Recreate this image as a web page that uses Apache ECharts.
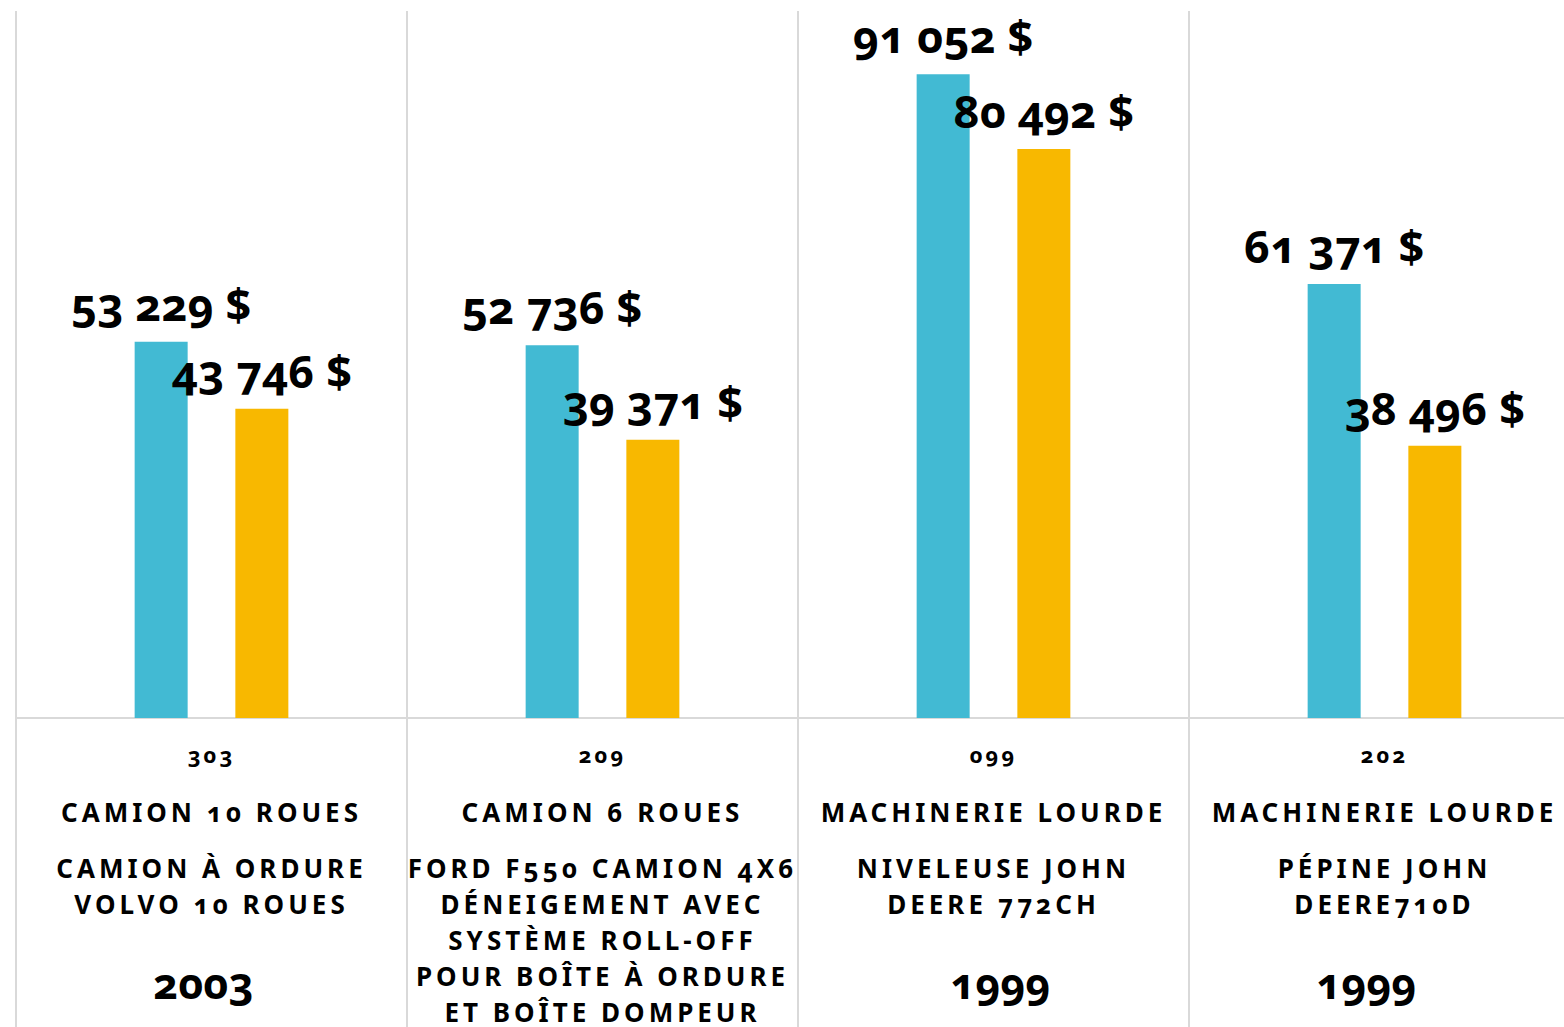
<!DOCTYPE html>
<html>
<head>
<meta charset="utf-8">
<script src="https://cdn.jsdelivr.net/npm/echarts@6.0.0/dist/echarts.min.js"></script>
<style>
html, body { margin: 0; padding: 0; background: #fff; }
#chart { width: 1564px; height: 1027px; }
/* chiffres elzéviriens + espacement des lettres pour les libellés d'axe */
#chart text { font-variant-numeric: oldstyle-nums; }
#chart text[style*="26px"] { letter-spacing: 4px; }
#chart text[style*="22px"] { letter-spacing: 3px; }
</style>
</head>
<body>
<div id="chart"></div>
<script>
// données
const codes = ['303', '209', '099', '202'];
const types = ['CAMION 10 ROUES', 'CAMION 6 ROUES', 'MACHINERIE LOURDE', 'MACHINERIE LOURDE'];
const descriptions = [
  ['CAMION À ORDURE', 'VOLVO 10 ROUES'],
  ['FORD F550 CAMION 4X6', 'DÉNEIGEMENT AVEC', 'SYSTÈME ROLL-OFF', 'POUR BOÎTE À ORDURE', 'ET BOÎTE DOMPEUR'],
  ['NIVELEUSE JOHN', 'DEERE 772CH'],
  ['PÉPINE JOHN', 'DEERE710D']
];
const years = ['2003', '', '1999', '1999'];
const blueValues = [53229, 52736, 91052, 61371];
const orangeValues = [43746, 39371, 80492, 38496];

const FONT = '"Noto Sans", "Open Sans", sans-serif';
const gridColor = '#d9d9d9';
// décalage horizontal des années (comme dans l'original, pas parfaitement centrées)
const yearPad = [[0, 16, 0, 0], [0, 0, 0, 0], [0, 0, 0, 14], [0, 36, 0, 0]];

function money(v) {
  return String(v).replace(/\B(?=(\d{3})+(?!\d))/g, ' ') + ' $';
}

function axisText(value, index) {
  let lines = ['{c|' + codes[index] + '}', '{t|' + types[index] + '}'];
  descriptions[index].forEach(function (d) { lines.push('{d|' + d + '}'); });
  if (years[index]) {
    lines.push('{s| }');
    lines.push('{y' + index + '|' + years[index] + '}');
  }
  return lines.join('\n');
}

const rich = {
  c: { fontFamily: FONT, fontSize: 22, fontWeight: 'bold', lineHeight: 40, color: '#000' },
  t: { fontFamily: FONT, fontSize: 26, fontWeight: 'bold', lineHeight: 76, color: '#000' },
  d: { fontFamily: FONT, fontSize: 26, fontWeight: 'bold', lineHeight: 36, color: '#000' },
  s: { fontFamily: FONT, fontSize: 12, lineHeight: 30 }
};
yearPad.forEach(function (p, i) {
  rich['y' + i] = { fontFamily: FONT, fontSize: 43, fontWeight: 'bold', lineHeight: 60, color: '#000', padding: p };
});

const barLabel = {
  show: true,
  position: 'top',
  distance: 16,
  color: '#000',
  fontFamily: FONT,
  fontWeight: 'bold',
  fontSize: 45,
  formatter: function (p) { return money(p.value); }
};

const chart = echarts.init(document.getElementById('chart'), null, { renderer: 'svg' });
chart.setOption({
  backgroundColor: '#fff',
  animation: false,
  textStyle: { fontFamily: FONT },
  grid: { left: 16, right: -16, top: 11, bottom: 309, containLabel: false, outerBoundsMode: 'none' },
  xAxis: {
    type: 'category',
    data: codes,
    boundaryGap: true,
    axisLine: { show: true, lineStyle: { color: gridColor, width: 2 } },
    axisTick: { show: true, length: 320, lineStyle: { color: gridColor, width: 2 } },
    splitLine: { show: true, lineStyle: { color: gridColor, width: 2 } },
    axisLabel: {
      interval: 0,
      margin: 16,
      color: '#000',
      formatter: axisText,
      rich: rich
    }
  },
  yAxis: {
    type: 'value',
    min: 0,
    max: 100000,
    show: false,
    splitLine: { show: false }
  },
  series: [
    {
      name: 'Série 1',
      type: 'bar',
      data: blueValues,
      barWidth: 53,
      barGap: '90%',
      itemStyle: { color: '#42BAD3' },
      label: barLabel
    },
    {
      name: 'Série 2',
      type: 'bar',
      data: orangeValues,
      barWidth: 53,
      itemStyle: { color: '#F8B800' },
      label: barLabel
    }
  ]
});
</script>
</body>
</html>
